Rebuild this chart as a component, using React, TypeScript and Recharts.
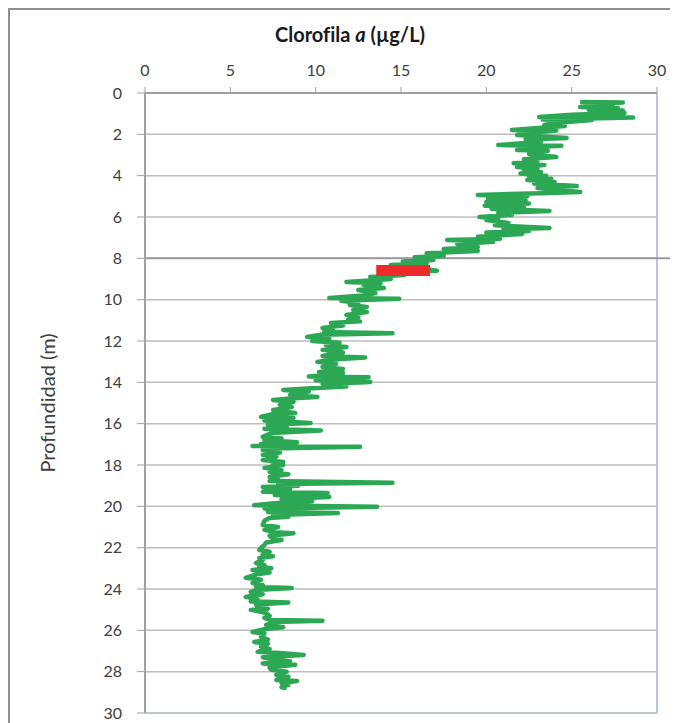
import { LineChart, Line, XAxis, YAxis, CartesianGrid, ReferenceArea, ReferenceLine, Label } from "recharts"

// [depth (m), chlorophyll a (µg/L)], top to bottom
const upperLayer: [number, number][] = [
  [0.44, 25.5], [0.46, 28.0], [0.55, 25.8], [0.6, 27.4], [0.68, 25.5], [0.72, 27.7],
  [0.82, 26.0], [0.85, 28.0], [0.95, 26.8], [0.97, 28.1], [1.05, 25.0], [1.16, 23.1],
  [1.18, 28.6], [1.28, 23.3], [1.31, 26.2], [1.45, 24.0], [1.55, 23.4], [1.6, 24.6],
  [1.79, 21.5], [1.82, 24.1], [1.95, 22.3], [2.03, 21.8], [2.18, 24.7], [2.25, 22.3],
  [2.37, 23.2], [2.52, 20.7], [2.55, 24.4], [2.65, 22.0], [2.76, 21.8], [2.8, 23.6],
  [2.95, 22.5], [3.1, 24.1], [3.2, 22.2], [3.3, 23.0], [3.4, 21.6], [3.48, 23.4],
  [3.58, 21.8], [3.65, 23.0], [3.73, 22.2], [3.82, 23.2], [3.9, 22.0], [4.0, 23.5],
  [4.06, 22.5], [4.15, 23.8], [4.21, 22.4], [4.31, 24.0], [4.38, 22.8], [4.5, 25.3],
  [4.6, 23.0], [4.79, 25.5], [4.85, 23.3], [4.93, 19.5],
]

const transitionLayer: [number, number][] = [
  [5.0, 22.4], [5.1, 20.1], [5.2, 22.3], [5.27, 20.0], [5.35, 22.5], [5.45, 19.9],
  [5.52, 22.2], [5.6, 20.3], [5.71, 23.7], [5.8, 20.7], [5.9, 21.5], [6.0, 19.6],
  [6.05, 20.7], [6.15, 20.0], [6.29, 21.3], [6.4, 20.5], [6.53, 23.7], [6.6, 21.0],
  [6.68, 22.5], [6.75, 20.0], [6.82, 22.1], [6.95, 19.5], [7.05, 20.8], [7.11, 17.7],
  [7.2, 20.4], [7.31, 18.3], [7.45, 19.5], [7.55, 17.5], [7.64, 19.5], [7.75, 16.5],
  [7.89, 17.5], [7.95, 15.8], [8.08, 16.9], [8.15, 15.1], [8.25, 16.5], [8.32, 14.4],
  [8.47, 16.0], [8.6, 17.1], [8.7, 13.9], [8.81, 15.2], [8.9, 13.2], [9.0, 14.4],
  [9.14, 11.8], [9.2, 13.8], [9.29, 12.8], [9.43, 14.0], [9.53, 12.5], [9.68, 13.5],
  [9.8, 12.8], [9.92, 10.8], [9.96, 14.9],
]

const middleLayer: [number, number][] = [
  [10.05, 11.5], [10.16, 12.5], [10.26, 12.0], [10.35, 13.0], [10.5, 12.2], [10.6, 13.0],
  [10.74, 11.8], [10.85, 12.5], [10.98, 11.9], [11.05, 12.6], [11.13, 10.9], [11.25, 11.6],
  [11.37, 10.4], [11.45, 11.0], [11.56, 10.5], [11.62, 14.5], [11.7, 10.3], [11.8, 9.5],
  [11.9, 10.8], [12.0, 9.8], [12.09, 11.4], [12.2, 10.6], [12.29, 11.8], [12.43, 10.4],
  [12.55, 11.6], [12.72, 10.4], [12.8, 12.9], [12.9, 11.0], [13.01, 10.1], [13.1, 11.2],
  [13.26, 10.4], [13.35, 11.6], [13.5, 10.2], [13.55, 11.6], [13.64, 10.6], [13.72, 9.6],
  [13.76, 13.1], [13.9, 10.0], [13.98, 13.2], [14.08, 10.4], [14.2, 11.8], [14.3, 9.5],
  [14.37, 8.1], [14.45, 9.6], [14.61, 8.5], [14.71, 10.1], [14.8, 8.2], [14.85, 7.5],
  [14.95, 8.7], [15.09, 7.9], [15.2, 8.6], [15.34, 7.5], [15.48, 8.8], [15.55, 7.4],
  [15.67, 6.8], [15.72, 8.7], [15.85, 7.0], [15.97, 9.7], [16.05, 7.2], [16.16, 8.3],
  [16.25, 7.0], [16.33, 10.3], [16.45, 7.4], [16.64, 6.9], [16.72, 8.0],
]

const lowerLayer: [number, number][] = [
  [16.79, 7.0], [16.9, 8.9], [16.98, 6.8], [17.05, 8.5], [17.08, 6.3], [17.12, 12.6],
  [17.2, 7.3], [17.27, 6.9], [17.4, 7.9], [17.51, 6.9], [17.6, 7.7], [17.76, 6.9],
  [17.85, 8.1], [17.95, 7.5], [18.0, 8.1], [18.14, 7.0], [18.25, 8.0], [18.34, 7.3],
  [18.45, 8.4], [18.58, 7.3], [18.7, 7.8], [18.78, 7.3], [18.86, 14.5], [18.92, 7.8],
  [19.0, 9.0], [19.06, 6.9], [19.15, 8.5], [19.3, 6.9], [19.36, 10.7], [19.45, 7.6],
  [19.55, 10.8], [19.65, 8.0], [19.75, 9.8], [19.85, 7.6], [19.95, 6.4], [20.02, 13.6],
  [20.1, 7.0], [20.2, 8.5], [20.27, 7.2], [20.32, 11.3], [20.42, 7.5], [20.5, 8.4],
  [20.56, 7.3], [20.7, 7.0], [20.9, 6.9], [21.0, 7.8], [21.14, 7.0], [21.25, 7.6],
  [21.3, 8.7], [21.42, 7.3], [21.55, 7.5], [21.63, 8.0], [21.75, 7.1], [21.87, 7.0],
  [22.0, 6.8], [22.11, 6.7], [22.2, 7.3], [22.35, 6.9], [22.42, 7.5], [22.5, 6.7],
  [22.6, 6.9], [22.74, 6.5], [22.85, 7.0], [22.93, 6.7], [23.0, 7.4], [23.08, 6.3],
  [23.2, 7.3],
]

const bottomLayer: [number, number][] = [
  [23.3, 6.5], [23.46, 5.9], [23.55, 6.8], [23.71, 6.3], [23.8, 6.9], [23.9, 6.5],
  [23.95, 8.6], [24.05, 6.5], [24.14, 6.2], [24.25, 6.9], [24.38, 5.9], [24.5, 6.6],
  [24.6, 6.2], [24.65, 8.4], [24.75, 6.5], [24.87, 6.6], [24.95, 7.2], [25.01, 6.2],
  [25.1, 6.8], [25.16, 7.1], [25.3, 7.3], [25.4, 7.0], [25.5, 7.3], [25.54, 10.4],
  [25.6, 7.6], [25.74, 7.1], [25.85, 8.1], [25.95, 7.0], [26.08, 6.3], [26.15, 7.0],
  [26.32, 6.8], [26.45, 7.2], [26.56, 6.4], [26.65, 7.2], [26.8, 6.8], [26.9, 7.3],
  [27.04, 6.6], [27.1, 7.9], [27.19, 9.3], [27.3, 6.9], [27.43, 7.6], [27.5, 8.5],
  [27.6, 6.9], [27.67, 8.8], [27.8, 7.3], [27.91, 7.4], [28.0, 8.3], [28.16, 7.7],
  [28.25, 8.4], [28.4, 7.7], [28.45, 8.9], [28.55, 8.0], [28.64, 8.4], [28.75, 8.0],
  [28.79, 8.3],
]

const chlTicks = [0, 5, 10, 15, 20, 25, 30]
const depthTicks = [0, 2, 4, 6, 8, 10, 12, 14, 16, 18, 20, 22, 24, 26, 28, 30]

// highlighted band (red bar)
const redBarDepth = [8.32, 8.85]
const redBarChl = [13.55, 16.7]

const profile = [...upperLayer, ...transitionLayer, ...middleLayer, ...lowerLayer, ...bottomLayer]
  .map(([depth, chl]) => ({ depth, chl }))

const font = "Lato, 'Open Sans', sans-serif"

const renderTitle = () => (
  <text
    x={340}
    y={32}
    textAnchor="middle"
    fontFamily={font}
    fontSize={20}
    fontWeight={700}
    fill="#1a1a1a"
    style={{ fontVariantLigatures: "none" }}
  >
    Clorofila <tspan fontStyle="italic">a</tspan> (µg/L)
  </text>
)

export default function App() {
  return (
    <div style={{ width: 668, height: 713, borderTop: "2px solid #8e8e8e", borderLeft: "2px solid #8e8e8e", background: "#fff" }}>
      <LineChart
        width={668}
        height={713}
        data={profile}
        layout="vertical"
        margin={{ top: 53, right: 21, bottom: 10, left: 20 }}
      >
        <CartesianGrid vertical={false} stroke="#bdbdbd" strokeWidth={1.5} />

        <XAxis
          type="number"
          orientation="top"
          domain={[0, 30]}
          ticks={chlTicks}
          interval={0}
          height={30}
          tickSize={6}
          tickMargin={11}
          axisLine={{ stroke: "#a0a0a0", strokeWidth: 2 }}
          tickLine={{ stroke: "#a0a0a0" }}
          tick={{ fontFamily: font, fontSize: 16, fill: "#404040" }}
        >
          <Label content={renderTitle} />
        </XAxis>

        <YAxis
          type="number"
          dataKey="depth"
          domain={[0, 30]}
          ticks={depthTicks}
          interval={0}
          width={115}
          tickSize={8}
          tickMargin={15}
          axisLine={{ stroke: "#a0a0a0", strokeWidth: 2 }}
          tickLine={{ stroke: "#a0a0a0" }}
          tick={{ fontFamily: font, fontSize: 16, fill: "#404040" }}
        >
          <Label
            value="Profundidad (m)"
            angle={-90}
            position="insideLeft"
            offset={18}
            style={{ textAnchor: "middle", fontFamily: font, fontSize: 20, fill: "#404040" }}
          />
        </YAxis>

        <ReferenceLine x={30} stroke="#b8c8dc" strokeWidth={2} />
        <ReferenceLine y={30} stroke="#b8c8dc" strokeWidth={2} />
        <ReferenceLine
          segment={[{ x: 0, y: 8 }, { x: 31.5, y: 8 }]}
          ifOverflow="visible"
          stroke="#9a9a9a"
          strokeWidth={2}
        />

        <Line
          type="linear"
          dataKey="chl"
          stroke="#2ca854"
          strokeWidth={4.5}
          strokeLinejoin="round"
          dot={false}
          isAnimationActive={false}
        />

        <ReferenceArea
          x1={redBarChl[0]}
          x2={redBarChl[1]}
          y1={redBarDepth[0]}
          y2={redBarDepth[1]}
          fill="#ee2a2a"
          fillOpacity={1}
          stroke="none"
          zIndex={1000}
        />
      </LineChart>
    </div>
  )
}
